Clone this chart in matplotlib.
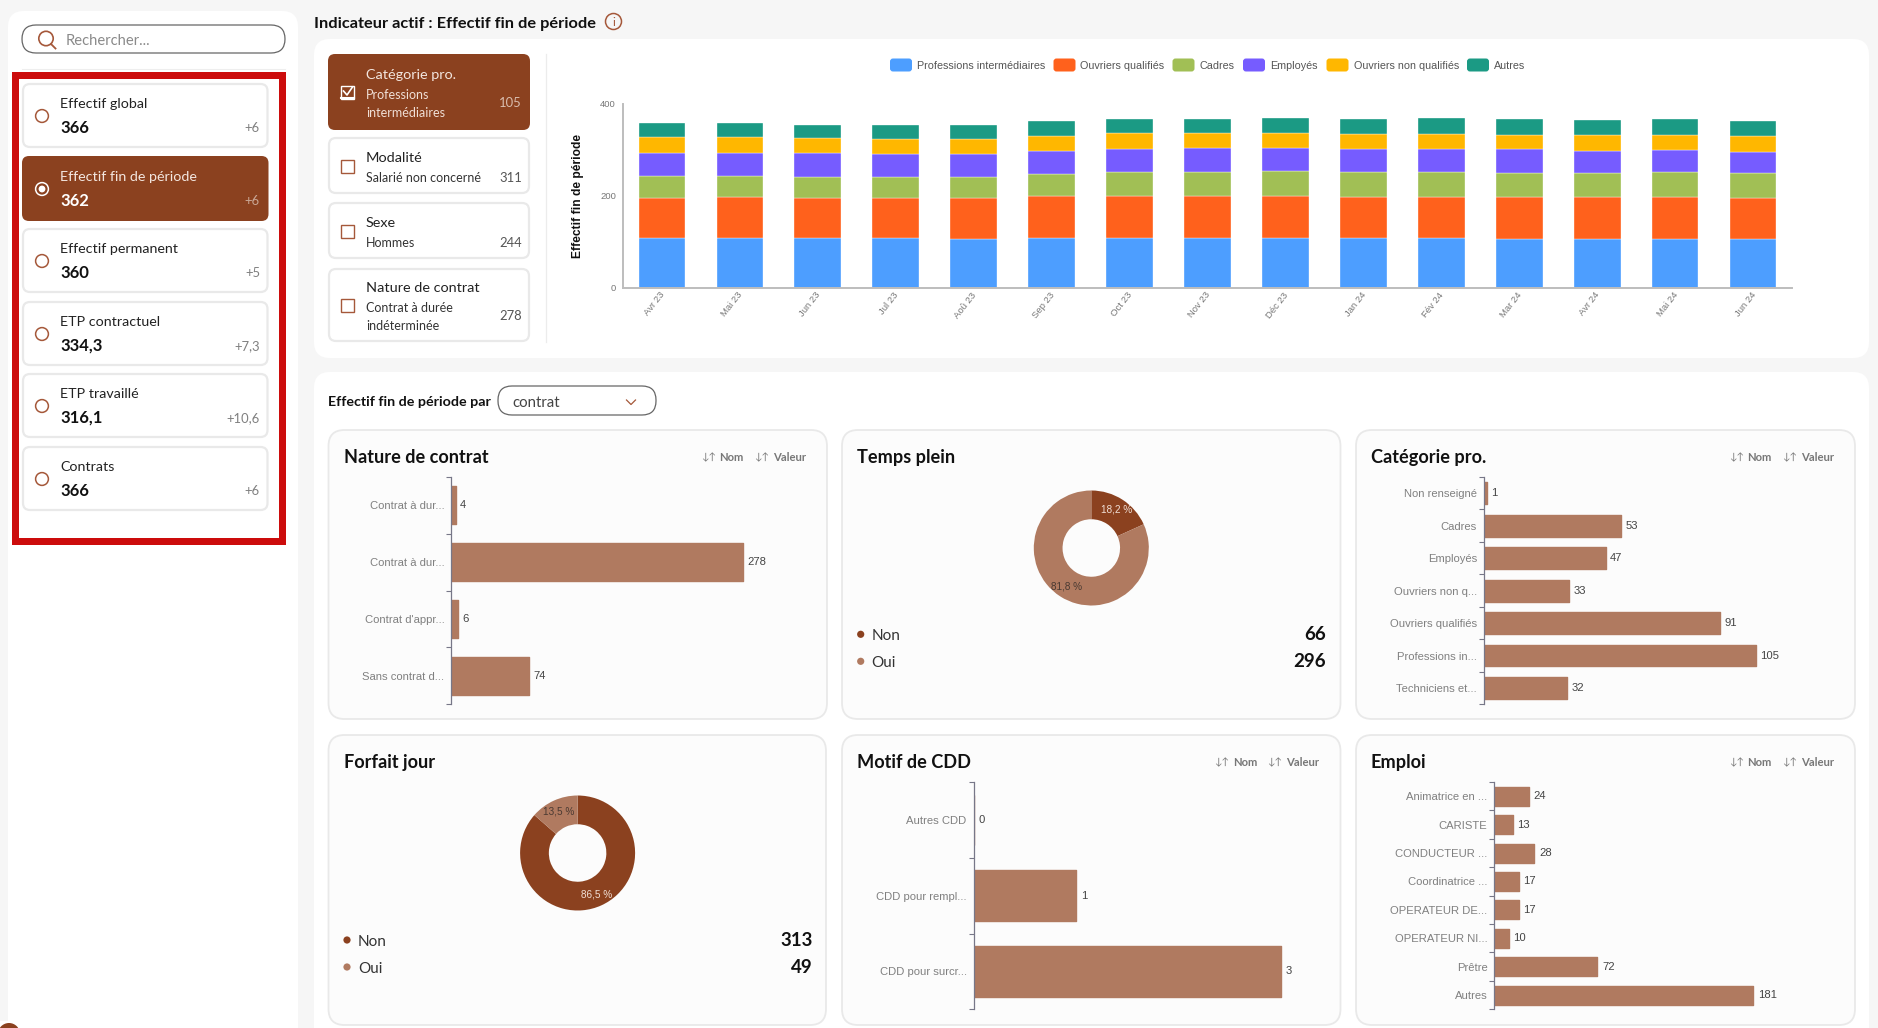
#!/usr/bin/env python3
import matplotlib
matplotlib.use('Agg')
import matplotlib.pyplot as plt
from matplotlib.patches import FancyBboxPatch, Circle, Rectangle
from matplotlib.transforms import ScaledTranslation
import numpy as np

W, H = 1878, 1028
UI_FONT = ['Lato', 'DejaVu Sans']
CHART_FONT = ['Liberation Sans', 'DejaVu Sans']

BROWN = '#8b411f'
BROWN_LIGHT = '#b07a60'
ICON = '#a5583a'
BORDER = '#e9e9e9'

# top chart
months = ['Avr 23', 'Mai 23', 'Jun 23', 'Jul 23', 'Aoû 23', 'Sep 23', 'Oct 23', 'Nov 23',
          'Déc 23', 'Jan 24', 'Fév 24', 'Mar 24', 'Avr 24', 'Mai 24', 'Jun 24']
series_names = ['Professions intermédiaires', 'Ouvriers qualifiés', 'Cadres', 'Employés',
                'Ouvriers non qualifiés', 'Autres']
series_colors = ['#4d9eff', '#ff611c', '#a1bf55', '#765cff', '#ffb700', '#1b9a84']
prof_inter = [107, 107, 107, 107, 105, 109, 107, 107, 107, 107, 107, 106, 105, 105, 105]
ouvriers_q = [89, 91, 89, 89, 90, 91, 93, 93, 93, 91, 91, 92, 92, 93, 91]
cadres = [46, 45, 45, 45, 46, 48, 51, 52, 53, 53, 53, 51, 52, 53, 53]
employes = [50, 50, 52, 50, 50, 50, 51, 51, 51, 51, 51, 52, 49, 49, 47]
ouvriers_nq = [35, 34, 32, 33, 32, 32, 34, 33, 33, 32, 32, 31, 33, 33, 33]
autres = [30, 30, 29, 30, 31, 32, 31, 31, 31, 33, 34, 35, 33, 33, 33]
y_ticks = [0, 200, 400]

# sidebar
kpi_names = ['Effectif global', 'Effectif fin de période', 'Effectif permanent',
             'ETP contractuel', 'ETP travaillé', 'Contrats']
kpi_values = ['366', '362', '360', '334,3', '316,1', '366']
kpi_deltas = ['+6', '+6', '+5', '+7,3', '+10,6', '+6']

# filter cards
filter_names = ['Catégorie pro.', 'Modalité', 'Sexe', 'Nature de contrat']
filter_subs = [['Professions', 'intermédiaires'], ['Salarié non concerné'], ['Hommes'],
               ['Contrat à durée', 'indéterminée']]
filter_values = [105, 311, 244, 278]

# small charts
contrat_labels = ['Contrat à dur...', 'Contrat à dur...', "Contrat d'appr...", 'Sans contrat d...']
contrat_values = [4, 278, 6, 74]
categorie_labels = ['Non renseigné', 'Cadres', 'Employés', 'Ouvriers non q...', 'Ouvriers qualifiés',
                    'Professions in...', 'Techniciens et...']
categorie_values = [1, 53, 47, 33, 91, 105, 32]
motif_labels = ['Autres CDD', 'CDD pour rempl...', 'CDD pour surcr...']
motif_values = [0, 1, 3]
emploi_labels = ['Animatrice en ...', 'CARISTE', 'CONDUCTEUR ...', 'Coordinatrice ...', 'OPERATEUR DE...',
                 'OPERATEUR NI...', 'Prêtre', 'Autres']
emploi_values = [24, 13, 28, 17, 17, 10, 72, 181]
donut_labels = ['Non', 'Oui']
temps_plein_values = [66, 296]
forfait_values = [313, 49]


def pt(px):
    return px * 0.72


fig = plt.figure(figsize=(W / 100, H / 100), dpi=100, facecolor='#f6f6f6')
page = fig.add_axes([0, 0, 1, 1])
page.set_xlim(0, W)
page.set_ylim(H, 0)
page.axis('off')


def box(x0, y0, x1, y1, r=8, fc='white', ec='none', lw=0.0, z=1):
    page.add_patch(FancyBboxPatch((x0 + r, y0 + r), x1 - x0 - 2 * r, y1 - y0 - 2 * r,
                                  boxstyle=f'round,pad={r},rounding_size={r}',
                                  fc=fc, ec=ec, lw=lw, zorder=z))


def label(x, y, s, px=15, color='#222222', weight='normal', ha='left', family=UI_FONT):
    page.text(x, y, s, fontsize=pt(px), color=color, fontweight=weight, ha=ha, va='center_baseline',
              family=family, zorder=5)


def axes_px(x0, y0, x1, y1):
    ax = fig.add_axes([x0 / W, 1 - y1 / H, (x1 - x0) / W, (y1 - y0) / H])
    ax.patch.set_alpha(0)
    return ax


# sidebar
box(8, 11, 298, 1060, r=16, z=1)
page.add_patch(Rectangle((0, 1021), 60, 8, fc='white', ec='none', zorder=1))
page.add_patch(Circle((9, 1034), 11, fc=BROWN, ec='none', zorder=2))
box(22, 25, 285, 53, r=14, fc='white', ec='#666666', lw=0.9, z=2)
page.add_patch(Circle((46, 38.5), 7.2, fc='none', ec=ICON, lw=1.2, zorder=3))
page.plot([51, 55.5], [44, 48.5], color=ICON, lw=1.3, zorder=3)
label(65.5, 39.5, 'Rechercher...', px=14.8, color='#8a8a8a')
page.plot([22, 285], [69, 69], color='#eeeeee', lw=0.8, zorder=2)
page.add_patch(Rectangle((14.5, 74.5), 267, 466, fc='none', ec='#cc0c0c', lw=pt(7), joinstyle='miter', zorder=4))

kpi_tops = [83, 156, 228, 301, 373, 446]
for i, top in enumerate(kpi_tops):
    active = i == 1
    if active:
        box(22, top, 268.5, top + 65, r=7, fc=BROWN, z=2)
    else:
        box(23, top + 1, 267.5, top + 64, r=7, fc='white', ec=BORDER, lw=1.6, z=2)
    label(60, top + 20, kpi_names[i], px=14.3, color='#f3e6df' if active else '#222222')
    label(60, top + 43.5, kpi_values[i], px=16.6, color='white' if active else '#111111', weight='bold')
    label(260, top + 44, kpi_deltas[i], px=13, color='#c9a795' if active else '#808080', ha='right')
    page.add_patch(Circle((42, top + 33), 6.4, fc='none', ec='white' if active else ICON, lw=1.1, zorder=3))
    if active:
        page.add_patch(Circle((42, top + 33), 3.4, fc='white', ec='none', zorder=3))

# header
label(314, 22.5, 'Indicateur actif : Effectif fin de période', px=16.4, color='#111111', weight='bold')
page.add_patch(Circle((613.5, 21.5), 8, fc='none', ec=ICON, lw=1.1, zorder=3))
label(613.5, 22, 'i', px=12, color=ICON, ha='center')

# top panel
box(314, 39, 1869, 358, r=16, z=1)
page.plot([546, 546], [54, 342], color='#ececec', lw=0.9, zorder=2)
filter_tops = [54, 137, 202, 268]
filter_bottoms = [130, 194, 259, 342]
title_ys = [74, 157, 222, 287]
sub_ys = [[94, 112], [177], [242], [307, 325]]
value_ys = [102, 177, 242, 315]
check_ys = [92, 166, 231, 305]
for i, top in enumerate(filter_tops):
    active = i == 0
    if active:
        box(328, top, 530, filter_bottoms[i], r=7, fc=BROWN, z=2)
    else:
        box(329, top + 1, 529, filter_bottoms[i] - 1, r=7, fc='white', ec=BORDER, lw=1.6, z=2)
    label(366, title_ys[i], filter_names[i], px=14.4, color='#f3e6df' if active else '#222222')
    for s, sy in zip(filter_subs[i], sub_ys[i]):
        label(366, sy, s, px=12.5, color='#f0dfd6' if active else '#333333')
    label(522, value_ys[i], str(filter_values[i]), px=13, color='#d9bdae' if active else '#555555', ha='right')
    cy = check_ys[i]
    page.add_patch(Rectangle((341, cy - 6.5), 13, 13, fc='none', ec='white' if active else ICON, lw=1.0, zorder=3))
    if active:
        page.plot([343.5, 347, 352.5], [cy - 1, cy + 3, cy - 5], color='white', lw=1.2, zorder=3)
        page.plot([341, 354], [cy + 5.5, cy + 5.5], color='white', lw=1.5, zorder=3)

# stacked bars
ax = axes_px(623, 103.7, 1792, 287.7)
stack = [prof_inter, ouvriers_q, cadres, employes, ouvriers_nq, autres]
base = np.zeros(len(months))
xpos = np.arange(len(months))
for name, vals, col in zip(series_names, stack, series_colors):
    ax.bar(xpos, vals, width=0.6, bottom=base, color=col, edgecolor='white', linewidth=0.25, label=name)
    base += np.array(vals)
ax.set_xlim(-0.5, 14.5)
ax.set_ylim(0, 400)
ax.set_yticks(y_ticks)
ax.set_xticks(xpos, months, rotation=52, ha='right', rotation_mode='anchor', family=CHART_FONT,
              fontsize=pt(9.5), color='#777777')
ax.tick_params(axis='x', length=0, pad=2)
ax.tick_params(axis='y', length=0, pad=5, labelsize=pt(9.5), labelcolor='#777777')
shift = ScaledTranslation(-2.5 / 100, 0, fig.dpi_scale_trans)
for t in ax.get_xticklabels():
    t.set_transform(t.get_transform() + shift)
for t in ax.get_yticklabels():
    t.set_family(CHART_FONT)
for s in ['top', 'right']:
    ax.spines[s].set_visible(False)
for s in ['left', 'bottom']:
    ax.spines[s].set_color('#bdbdbd')
    ax.spines[s].set_linewidth(1.4)
page.text(578, 196, 'Effectif fin de période', rotation=90, fontsize=pt(12), fontweight='bold', color='#111111',
          ha='center', va='center', family=CHART_FONT, zorder=5)

# legend drawn by hand, matches the top row of the source
legend_x = [890, 1053.5, 1172.5, 1243, 1326.5, 1467]
for x, name, col in zip(legend_x, series_names, series_colors):
    box(x, 58.5, x + 22, 71.5, r=3, fc=col, z=3)
    label(x + 27, 65, name, px=10.8, color='#555555', family=CHART_FONT)

# lower panel
box(314, 372, 1869, 1060, r=16, z=1)
label(328.5, 401, 'Effectif fin de période par', px=14.2, color='#111111', weight='bold')
box(498, 386, 656, 415, r=14, fc='white', ec='#666666', lw=0.9, z=2)
label(512.5, 401.5, 'contrat', px=15, color='#444444')
page.plot([626.5, 631, 635.5], [400, 404.5, 400], color=ICON, lw=0.9, zorder=3)


def chart_card(x0, y0, x1, y1, title, sort=True):
    box(x0, y0, x1, y1, r=16, fc='#fcfcfc', ec=BORDER, lw=1.3, z=2)
    ty = y0 + 26
    label(x0 + 15, ty, title, px=18.2, color='#111111', weight='bold')
    if sort:
        for off, s in [(-126, '↓↑'), (-73, '↓↑')]:
            label(x1 + off, ty + 0.5, s, px=10, color='#777777')
        label(x1 - 107.5, ty + 0.5, 'Nom', px=11.3, color='#777777', weight='bold')
        label(x1 - 54, ty + 0.5, 'Valeur', px=11.3, color='#777777', weight='bold')


def hbar(x_axis, y0, y1, px_per_unit, x_right, labels, values, tick_len=4.6):
    # one axes per card, xlim follows the pixel scale
    ax = axes_px(x_axis, y0, x_right, y1)
    n = len(values)
    bars = ax.barh(np.arange(n), values, height=0.67, color=BROWN_LIGHT, edgecolor=BROWN_LIGHT,
                   linewidth=1.0, joinstyle='round')
    ax.set_xlim(0, (x_right - x_axis) / px_per_unit)
    ax.set_ylim(n - 0.5, -0.5)
    ax.set_yticks(np.arange(n), labels, family=CHART_FONT, fontsize=pt(11.2), color='#808080')
    ax.set_yticks(np.arange(n + 1) - 0.5, minor=True)
    ax.tick_params(axis='y', which='major', length=0, pad=pt(7))
    ax.tick_params(axis='y', which='minor', length=pt(tick_len), width=0.8, color='#777788')
    ax.set_xticks([])
    for s in ['top', 'right', 'bottom']:
        ax.spines[s].set_visible(False)
    ax.spines['left'].set_color('#777788')
    ax.spines['left'].set_linewidth(0.9)
    ax.bar_label(bars, padding=pt(4.5), fontsize=pt(11.3), color='#444444', family=CHART_FONT)
    return ax


def fmt_pct(p):
    return f'{p:.1f} %'.replace('.', ',')


def donut(cx, cy, r, values, colors, text_colors, x_dot, x_value, y_rows):
    ax = axes_px(cx - r, cy - r, cx + r, cy + r)
    wedges, texts, pcts = ax.pie(values, colors=colors, startangle=90, counterclock=False, radius=1,
                                 autopct=fmt_pct, pctdistance=0.8,
                                 wedgeprops={'width': 0.5, 'linewidth': 0},
                                 textprops={'fontsize': pt(10), 'family': CHART_FONT})
    ax.set_xlim(-1, 1)
    ax.set_ylim(-1, 1)
    for t, c in zip(pcts, text_colors):
        t.set_color(c)
    for name, val, col, y in zip(donut_labels, values, colors, y_rows):
        page.add_patch(Circle((x_dot, y), 3.6, fc=col, ec='none', zorder=5))
        label(x_dot + 11, y + 0.5, name, px=15.2, color='#333333')
        label(x_value, y - 1, str(val), px=18.8, color='#111111', weight='bold', ha='right')


chart_card(328.5, 430, 827, 719, 'Nature de contrat')
chart_card(842, 430, 1340.5, 719, 'Temps plein', sort=False)
chart_card(1356, 430, 1855, 719, 'Catégorie pro.')
chart_card(328.5, 735, 826, 1025, 'Forfait jour', sort=False)
chart_card(842, 735, 1340.5, 1025, 'Motif de CDD')
chart_card(1356, 735, 1855, 1025, 'Emploi')

hbar(451.4, 476.7, 704.3, 1.05, 815, contrat_labels, contrat_values)
hbar(1484, 477, 704.3, 2.59, 1845, categorie_labels, categorie_values)
hbar(973.7, 782, 1009.3, 102.4, 1330, motif_labels, motif_values)
hbar(1494.4, 782, 1009.3, 1.431, 1845, emploi_labels, emploi_values)

donut(1091.3, 548, 57.5, temps_plein_values, [BROWN, BROWN_LIGHT], ['#f0dfd6', '#4a3a32'], 860.7, 1326, [634.3, 661.3])
donut(577.6, 853, 57.5, forfait_values, [BROWN, BROWN_LIGHT], ['#f0dfd6', '#4a3a32'], 347, 812.5, [940, 967])

fig.savefig('out.png', dpi=100, facecolor=fig.get_facecolor())
